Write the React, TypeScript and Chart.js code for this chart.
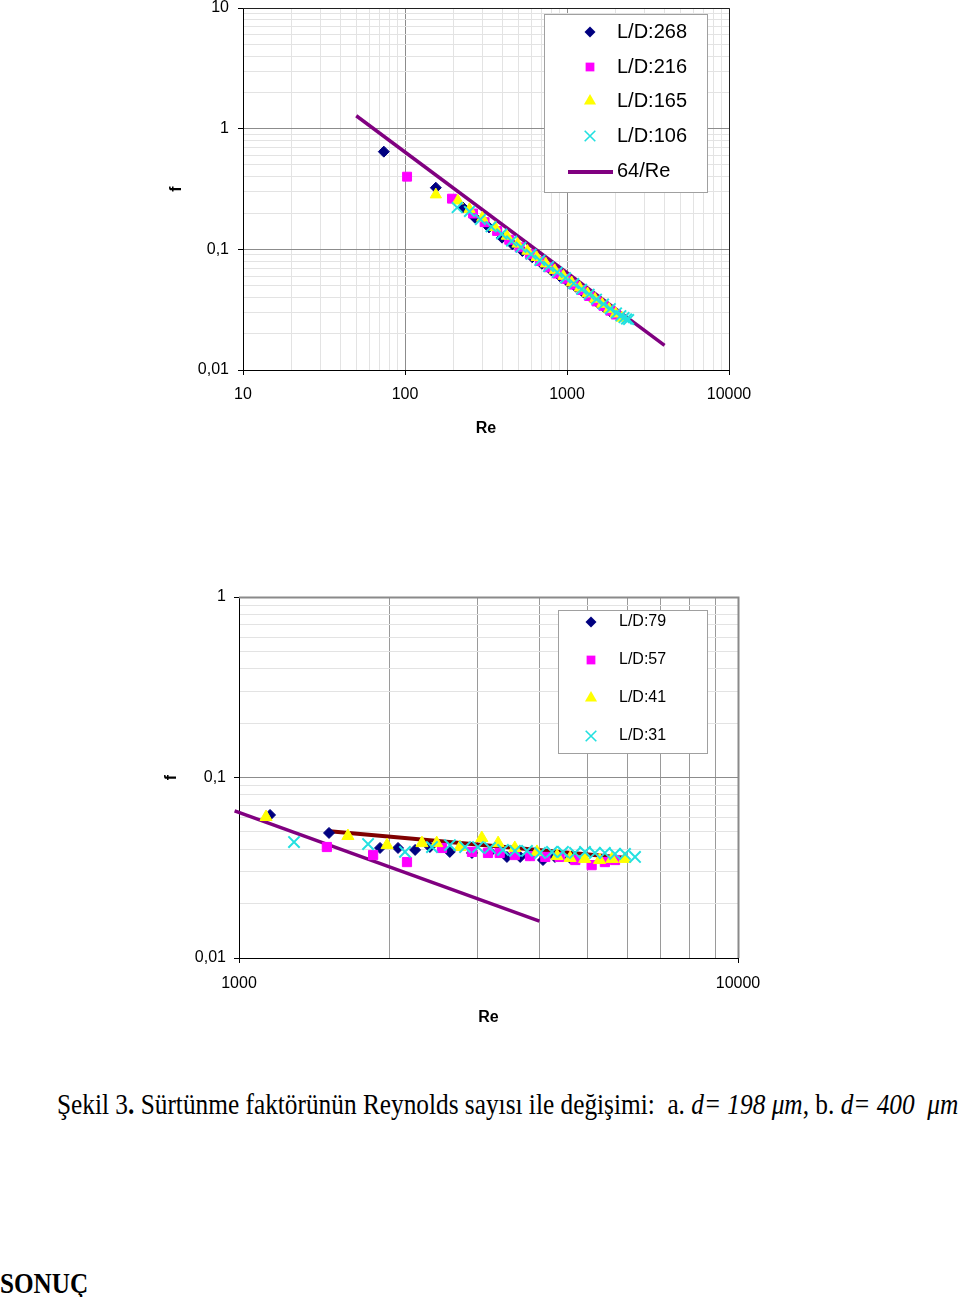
import React, { useEffect, useRef } from 'react';
import { Chart, registerables } from 'chart.js';

Chart.register(...registerables);
Chart.defaults.font.family = "'Liberation Sans', Arial, sans-serif";
Chart.defaults.color = '#000';

// ---------------- Figure a (d = 198 µm) ----------------
const reA268 = [74, 155, 228, 270, 330, 397, 460, 530, 610, 700, 800, 900, 1010, 1130, 1260, 1400, 1550, 1700, 1850];
const fA268 = [0.645, 0.324, 0.222, 0.183, 0.152, 0.125, 0.11, 0.097, 0.086, 0.076, 0.067, 0.06, 0.054, 0.049, 0.044, 0.04, 0.036, 0.033, 0.0305];

const reA216 = [103, 195, 263, 310, 370, 440, 510, 590, 680, 770, 870, 980, 1100, 1230, 1370, 1520, 1680, 1850, 2000];
const fA216 = [0.4, 0.263, 0.198, 0.168, 0.142, 0.12, 0.104, 0.091, 0.08, 0.071, 0.063, 0.057, 0.051, 0.046, 0.041, 0.037, 0.034, 0.031, 0.0288];

const reA165 = [155, 212, 250, 300, 360, 425, 495, 570, 650, 740, 840, 950, 1070, 1200, 1340, 1490, 1650, 1820, 2000, 2180];
const fA165 = [0.284, 0.253, 0.215, 0.182, 0.152, 0.129, 0.111, 0.097, 0.086, 0.076, 0.067, 0.06, 0.053, 0.048, 0.043, 0.0388, 0.0352, 0.032, 0.0293, 0.027];

const reA106 = [210, 250, 292, 340, 395, 455, 520, 600, 680, 770, 870, 980, 1100, 1230, 1370, 1520, 1680, 1850, 2020, 2150, 2250, 2330, 2400];
const fA106 = [0.222, 0.206, 0.177, 0.154, 0.134, 0.117, 0.104, 0.091, 0.081, 0.072, 0.0645, 0.058, 0.052, 0.0467, 0.0424, 0.0386, 0.0352, 0.0322, 0.0297, 0.0282, 0.0272, 0.0265, 0.0262];

const reA64 = [50, 4000];
const fA64 = [1.28, 0.016];

const xMajorA = [10, 100, 1000, 10000];
const xLabelsA = ['10', '100', '1000', '10000'];
const yMajorA = [0.01, 0.1, 1, 10];
const yLabelsA = ['0,01', '0,1', '1', '10'];

// ---------------- Figure b (d = 400 µm) ----------------
const reB79 = [1154, 1515, 1917, 2083, 2254, 2413, 2645, 2930, 3184, 3443, 3660, 3830, 4066, 4297, 4608];
const fB79 = [0.062, 0.0493, 0.0407, 0.0407, 0.0397, 0.0412, 0.0387, 0.0382, 0.0387, 0.0363, 0.0363, 0.0372, 0.0349, 0.0363, 0.0358];

const reB57 = [1500, 1857, 2171, 2552, 2930, 3155, 3330, 3570, 3830, 4110, 4390, 4720, 5090, 5410, 5670];
const fB57 = [0.0412, 0.0372, 0.034, 0.0407, 0.0387, 0.0382, 0.0382, 0.0372, 0.0367, 0.0363, 0.0363, 0.0349, 0.0327, 0.034, 0.0349];

const reB41 = [1133, 1653, 1980, 2326, 2490, 2772, 3066, 3306, 3570, 3955, 4340, 4608, 4930, 5280, 5590, 5930];
const fB41 = [0.0604, 0.0474, 0.0422, 0.0433, 0.0433, 0.0412, 0.0462, 0.0433, 0.0407, 0.0387, 0.0367, 0.0358, 0.0354, 0.0349, 0.0354, 0.0354];

const reB31 = [1289, 1814, 2151, 2436, 2647, 2838, 3013, 3184, 3381, 3573, 3777, 4011, 4238, 4459, 4713, 4936, 5168, 5410, 5669, 5937, 6218];
const fB31 = [0.0439, 0.0428, 0.0387, 0.0412, 0.0422, 0.0412, 0.0412, 0.0407, 0.0397, 0.0392, 0.0392, 0.0382, 0.0387, 0.0387, 0.0382, 0.0387, 0.0382, 0.0382, 0.0377, 0.0377, 0.0363];

const reB64 = [980, 4000];
const fB64 = [0.0653, 0.016];

const reBlasius = [1500, 6000];
const fBlasius = [0.0506, 0.0358];

const xMajorB = [1000, 10000];
const xLabelsB = ['1000', '10000'];
const yMajorB = [0.01, 0.1, 1];
const yLabelsB = ['0,01', '0,1', '1'];

// ---------------- helpers ----------------
const NAVY = '#000080';
const MAGENTA = '#FF00FF';
const YELLOW = '#FFFF00';
const CYAN = '#22E0E0';
const PURPLE = '#800080';
const MAROON = '#800000';

function logTickValues(majors: number[]) {
  const out: number[] = [];
  for (let i = 0; i < majors.length; i++) {
    const d = majors[i];
    if (i === majors.length - 1) { out.push(d); break; }
    for (let k = 1; k <= 9; k++) out.push(+(d * k).toPrecision(6));
  }
  return out;
}
const isMajor = (v: number) => Math.abs(Math.log10(v) - Math.round(Math.log10(v))) < 1e-7;
const labelOf = (majors: number[], labels: string[]) => (v: any) => {
  const n = Number(v);
  const i = majors.findIndex((m) => Math.abs(m - n) / m < 1e-6);
  return i >= 0 ? labels[i] : '';
};
const zip = (xs: number[], ys: number[]) => xs.map((x, i) => ({ x, y: ys[i] }));

function markerSet(label: string, re: number[], f: number[], style: string, color: string, radius: number, order: number) {
  return {
    label,
    data: zip(re, f),
    showLine: false,
    pointStyle: style,
    pointRadius: radius,
    pointHoverRadius: radius,
    pointBackgroundColor: color,
    pointBorderColor: color,
    pointBorderWidth: style === 'crossRot' ? 2 : 1,
    backgroundColor: color,
    borderColor: color,
    order,
    legendShow: true,
  } as any;
}
function lineSet(label: string, re: number[], f: number[], color: string, width: number, order: number, legend: boolean) {
  return {
    label,
    data: zip(re, f),
    showLine: true,
    pointRadius: 0,
    pointHoverRadius: 0,
    borderColor: color,
    backgroundColor: color,
    borderWidth: width,
    order,
    clip: false,
    legendShow: legend,
  } as any;
}

function drawMarker(ctx: CanvasRenderingContext2D, style: string, x: number, y: number, r: number, color: string) {
  ctx.save();
  ctx.fillStyle = color;
  ctx.strokeStyle = color;
  ctx.beginPath();
  if (style === 'rectRot') {
    ctx.moveTo(x, y - r); ctx.lineTo(x + r, y); ctx.lineTo(x, y + r); ctx.lineTo(x - r, y); ctx.closePath(); ctx.fill();
  } else if (style === 'rect') {
    const s = r * Math.SQRT1_2;
    ctx.rect(x - s, y - s, 2 * s, 2 * s); ctx.fill();
  } else if (style === 'triangle') {
    ctx.moveTo(x, y - r); ctx.lineTo(x + 0.866 * r, y + 0.5 * r); ctx.lineTo(x - 0.866 * r, y + 0.5 * r); ctx.closePath(); ctx.fill();
  } else if (style === 'crossRot') {
    const a = r * Math.SQRT1_2;
    ctx.lineWidth = 1.6;
    ctx.moveTo(x - a, y - a); ctx.lineTo(x + a, y + a); ctx.moveTo(x + a, y - a); ctx.lineTo(x - a, y + a); ctx.stroke();
  }
  ctx.restore();
}

const legendRadius: Record<string, number> = { rectRot: 5.5, rect: 6.2, triangle: 7, crossRot: 7.5 };

function legendPlugin(box: { x: number; y: number; w: number; h: number }, rows: number[], markerX: number, textX: number, fontSize: number, scale: number) {
  return {
    id: 'boxLegend',
    afterDatasetsDraw(chart: any) {
      const ctx: CanvasRenderingContext2D = chart.ctx;
      ctx.save();
      ctx.fillStyle = '#fff';
      ctx.fillRect(box.x, box.y, box.w, box.h);
      ctx.strokeStyle = '#a0a0a0';
      ctx.lineWidth = 1;
      ctx.strokeRect(box.x + 0.5, box.y + 0.5, box.w, box.h);
      const items = chart.data.datasets.filter((d: any) => d.legendShow);
      items.forEach((d: any, i: number) => {
        const y = rows[i];
        if (d.showLine) {
          ctx.strokeStyle = d.borderColor;
          ctx.lineWidth = 4;
          ctx.beginPath();
          ctx.moveTo(markerX - 22, y + 1);
          ctx.lineTo(markerX + 23, y + 1);
          ctx.stroke();
        } else {
          drawMarker(ctx, d.pointStyle, markerX, y, legendRadius[d.pointStyle] * scale, d.pointBackgroundColor);
        }
        ctx.fillStyle = '#000';
        ctx.font = `${fontSize}px 'Liberation Sans', Arial, sans-serif`;
        ctx.textBaseline = 'middle';
        ctx.textAlign = 'left';
        ctx.fillText(d.label, textX, y);
      });
      ctx.restore();
    },
  };
}

function framePlugin(color: string, width: number) {
  return {
    id: 'plotFrame',
    beforeDatasetsDraw(chart: any) {
      const { ctx, chartArea: a } = chart;
      ctx.save();
      ctx.strokeStyle = color;
      ctx.lineWidth = width;
      ctx.beginPath();
      ctx.moveTo(a.left, a.top + 0.5);
      ctx.lineTo(a.right + 0.5, a.top + 0.5);
      ctx.lineTo(a.right + 0.5, a.bottom);
      ctx.stroke();
      ctx.restore();
    },
  };
}

function logAxis(opts: {
  min: number; max: number; majors: number[]; labels: string[]; fit: number; horizontal: boolean;
  title: string; pad: number; majorColor: string; minorColor: string;
}) {
  const values = logTickValues(opts.majors);
  return {
    type: 'logarithmic',
    min: opts.min,
    max: opts.max,
    position: opts.horizontal ? 'bottom' : 'left',
    afterBuildTicks: (s: any) => { s.ticks = values.map((v) => ({ value: v })); },
    afterFit: (s: any) => { if (opts.horizontal) s.height = opts.fit; else s.width = opts.fit; },
    ticks: {
      autoSkip: false,
      maxRotation: 0,
      minRotation: 0,
      padding: opts.pad,
      color: '#000',
      font: { size: 16 },
      callback: labelOf(opts.majors, opts.labels),
    },
    grid: {
      color: (c: any) => (c.tick && isMajor(c.tick.value) ? opts.majorColor : opts.minorColor),
      lineWidth: 1,
      drawTicks: true,
      tickLength: 5,
      tickColor: (c: any) => (c.tick && isMajor(c.tick.value) ? '#000' : 'rgba(0,0,0,0)'),
    },
    border: { display: true, color: '#000', width: 1 },
    title: {
      display: true,
      text: opts.title,
      color: '#000',
      font: { size: 16, weight: 'bold' },
      padding: { top: 0, bottom: 0 },
    },
  };
}

function configA(): any {
  return {
    type: 'scatter',
    data: {
      datasets: [
        markerSet('L/D:268', reA268, fA268, 'rectRot', NAVY, 5.5, 4),
        markerSet('L/D:216', reA216, fA216, 'rect', MAGENTA, 6.3, 3),
        markerSet('L/D:165', reA165, fA165, 'triangle', YELLOW, 6.5, 2),
        markerSet('L/D:106', reA106, fA106, 'crossRot', CYAN, 7.5, 1),
        lineSet('64/Re', reA64, fA64, PURPLE, 3.5, 5, true),
      ],
    },
    options: {
      responsive: false,
      animation: false,
      events: [],
      layout: { padding: { left: 167, right: 231, top: 28, bottom: 2 } },
      plugins: { legend: { display: false }, tooltip: { enabled: false } },
      scales: {
        x: logAxis({ min: 10, max: 10000, majors: xMajorA, labels: xLabelsA, fit: 68, horizontal: true, title: 'Re', pad: 10, majorColor: '#8c8c8c', minorColor: '#e3e3e3' }),
        y: logAxis({ min: 0.01, max: 10, majors: yMajorA, labels: yLabelsA, fit: 76, horizontal: false, title: 'f', pad: 9, majorColor: '#8c8c8c', minorColor: '#e3e3e3' }),
      },
    },
    plugins: [
      framePlugin('#202020', 1),
      legendPlugin({ x: 544, y: 34, w: 163, h: 178 }, [52, 87, 121, 156, 191], 590, 617, 20, 1),
    ],
  };
}

function configB(): any {
  return {
    type: 'scatter',
    data: {
      datasets: [
        markerSet('L/D:79', reB79, fB79, 'rectRot', NAVY, 5.5, 4),
        markerSet('L/D:57', reB57, fB57, 'rect', MAGENTA, 6.5, 3),
        markerSet('L/D:41', reB41, fB41, 'triangle', YELLOW, 7, 2),
        markerSet('L/D:31', reB31, fB31, 'crossRot', CYAN, 8, 1),
        lineSet('Blasius', reBlasius, fBlasius, MAROON, 4, 5, false),
        lineSet('64/Re', reB64, fB64, PURPLE, 3.5, 6, false),
      ],
    },
    options: {
      responsive: false,
      animation: false,
      events: [],
      layout: { padding: { left: 162, right: 222, top: 37, bottom: 3 } },
      plugins: { legend: { display: false }, tooltip: { enabled: false } },
      scales: {
        x: logAxis({ min: 1000, max: 10000, majors: xMajorB, labels: xLabelsB, fit: 69, horizontal: true, title: 'Re', pad: 11, majorColor: '#8c8c8c', minorColor: '#9a9a9a' }),
        y: logAxis({ min: 0.01, max: 1, majors: yMajorB, labels: yLabelsB, fit: 77, horizontal: false, title: 'f', pad: 8, majorColor: '#8c8c8c', minorColor: '#e3e3e3' }),
      },
    },
    plugins: [
      framePlugin('#8a8a8a', 2),
      legendPlugin({ x: 558, y: 50, w: 149, h: 143 }, [62, 100, 138, 176], 591, 619, 16, 1),
    ],
  };
}

function ChartCanvas({ make, top, width, height }: { make: () => any; top: number; width: number; height: number }) {
  const ref = useRef<HTMLCanvasElement>(null);
  useEffect(() => {
    const chart = new Chart(ref.current as HTMLCanvasElement, make());
    return () => chart.destroy();
  }, []);
  return (
    <canvas
      ref={ref}
      width={width}
      height={height}
      style={{ position: 'absolute', left: 0, top, width, height, display: 'block' }}
    />
  );
}

export default function App() {
  return (
    <div style={{ position: 'absolute', left: 0, top: 0, width: 960, height: 1297, overflow: 'hidden', background: '#fff' }}>
      <ChartCanvas make={configA} top={-20} width={960} height={460} />
      <ChartCanvas make={configB} top={560} width={960} height={470} />
      <div
        style={{
          position: 'absolute', left: 57, top: 1090, fontFamily: "'Liberation Serif', 'Times New Roman', serif",
          fontSize: 29, lineHeight: 1, whiteSpace: 'pre', transform: 'scaleX(0.873)', transformOrigin: '0 0', color: '#000',
        }}
      >
        Şekil 3<b>.</b> Sürtünme faktörünün Reynolds sayısı ile değişimi:  a. <i>d= 198 μm</i>, b. <i>d= 400  μm</i>
      </div>
      <div
        style={{
          position: 'absolute', left: 0, top: 1268, fontFamily: "'Liberation Serif', 'Times New Roman', serif",
          fontSize: 30, fontWeight: 'bold', lineHeight: 1, whiteSpace: 'pre', transform: 'scaleX(0.84)', transformOrigin: '0 0', color: '#000',
        }}
      >
        SONUÇ
      </div>
    </div>
  );
}
